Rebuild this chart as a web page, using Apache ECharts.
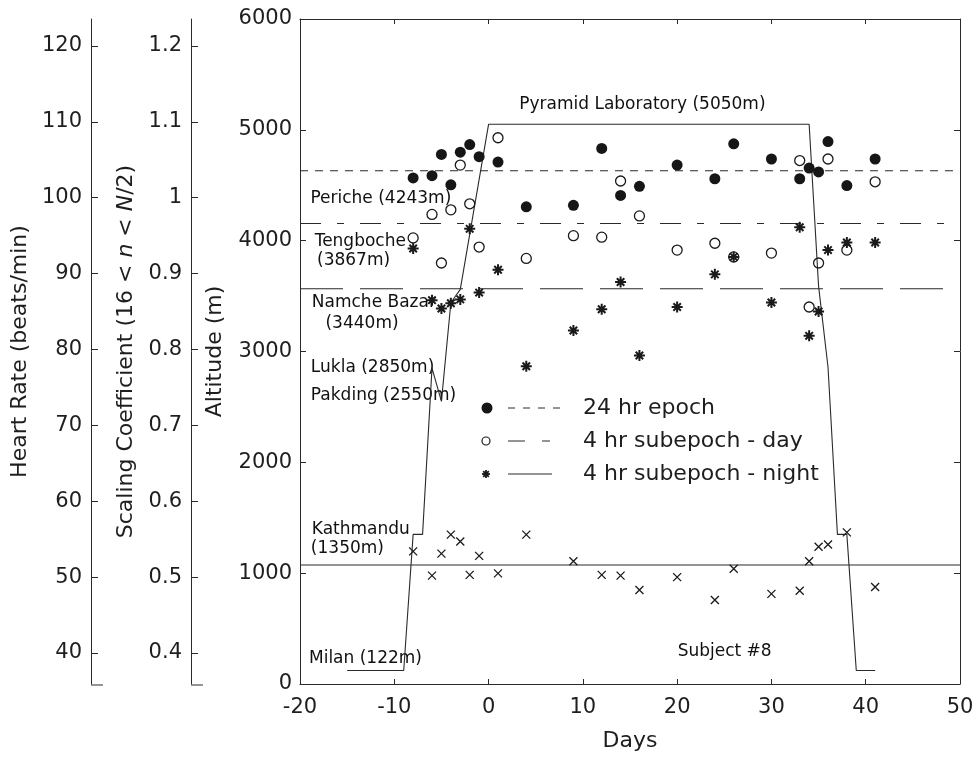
<!DOCTYPE html>
<html><head><meta charset="utf-8">
<script src="https://cdn.jsdelivr.net/npm/echarts@6/dist/echarts.min.js"></script>
<style>html,body{margin:0;padding:0;background:#fff}#c{width:980px;height:757px}</style>
</head><body><div id="c"></div>
<script>
// ---------------- data ----------------
const days = [-8,-6,-5,-4,-3,-2,-1,1,4,9,12,14,16,20,24,26,30,33,34,35,36,38,41];
const coef24hr  = [1.026,1.029,1.057,1.017,1.060,1.070,1.054,1.047,0.988,0.990,1.065,1.003,1.015,1.043,1.025,1.071,1.051,1.025,1.039,1.034,1.074,1.016,1.051];
const coefDay   = [0.947,0.978,0.914,0.984,1.043,0.992,0.935,1.079,0.920,0.950,0.948,1.022,0.976,0.931,0.940,0.922,0.927,1.049,0.856,0.914,1.051,0.931,1.021];
const coefNight = [0.933,0.865,0.854,0.861,0.866,0.959,0.875,0.905,0.778,0.825,0.853,0.889,0.792,0.856,0.899,0.922,0.862,0.961,0.818,0.850,0.931,0.941,0.941];
const heartRate = [53.4,50.2,53.1,55.6,54.7,50.3,52.8,50.5,55.6,52.1,50.3,50.2,48.3,50.0,47.0,51.1,47.8,48.2,52.1,54.0,54.3,55.9,48.7];
const mean24hr = 1.0355, meanDay = 0.966, meanNight = 0.880, meanHeartRate = 51.6;
const routeDays     = [-15,-9,-8,-7,-6,-5,-4,-3,0,34,35,36,36.2,37,38,39,41];
const routeAltitude = [122,122,1350,1350,2850,2550,3440,3560,5050,5050,3590,2860,2560,1350,1350,122,122];
const dayRange = [-20, 50];
const altitudeRange = [0, 6000];
const hrRange = [35.92, 123.55];
const coefRange = [0.3592, 1.2355];
const hrTicks = [40,50,60,70,80,90,100,110,120];
const coefTicks = [0.4,0.5,0.6,0.7,0.8,0.9,1.0,1.1,1.2];
const placeLabels = ['Pyramid Laboratory (5050m)','Periche (4243m)','Tengboche','(3867m)','Namche Bazar','(3440m)','Lukla (2850m)','Pakding (2550m)','Kathmandu','(1350m)','Milan (122m)','Subject #8'];
const placeLabelDays = [3.2,-18.95,-18.5,-18.25,-18.8,-17.35,-18.9,-18.9,-18.8,-18.9,-19.1,20];
const placeLabelAlt  = [5230,4376,3994,3823,3439,3252,2853,2606,1390,1222,225,291];
const legendNames = ['24 hr epoch','4 hr subepoch - day','4 hr subepoch - night'];

// ---------------- chart ----------------
const FONT = 'DejaVu Sans';
const INK = '#1e1e1e';
const LINE = '#2a2a2a';
const STAR = 'path://M5,0L5,10M0,5L10,5M1.6,1.6L8.4,8.4M1.6,8.4L8.4,1.6';
const CROSS = 'path://M0,0L10,10M0,10L10,0';
const zip = (a, b) => a.map((v, i) => [v, b[i]]);
const fmt1 = v => String(Math.round(v * 10) / 10);
const fmtInt = v => String(Math.round(v));

const axisText = {fontFamily: FONT, fontSize: 21, color: INK};
const nameText = {fontFamily: FONT, fontSize: 22, color: INK};

const chart = echarts.init(document.getElementById('c'), null, {renderer: 'canvas'});

function meanLine(y, yIdx, type) {
  return {type: 'line', xAxisIndex: 0, yAxisIndex: yIdx, data: [[dayRange[0], y], [dayRange[1], y]],
    symbol: 'none', silent: true, lineStyle: {color: LINE, width: 1.1, type: type, opacity: 1}, z: 2};
}
function legendStar(cx, cy, r) {
  const d = r * 0.7;
  const seg = (x1, y1, x2, y2) => ({type: 'line', shape: {x1: cx + x1, y1: cy + y1, x2: cx + x2, y2: cy + y2},
    style: {stroke: '#1a1a1a', lineWidth: 1.8}, z: 10});
  return [seg(-r, 0, r, 0), seg(0, -r, 0, r), seg(-d, -d, d, d), seg(-d, d, d, -d)];
}

const option = {
  animation: false,
  backgroundColor: '#fff',
  grid: {left: 300, right: 20, top: 19, bottom: 72},
  xAxis: [
    {type: 'value', min: dayRange[0], max: dayRange[1], interval: 10, position: 'bottom',
     name: 'Days', nameLocation: 'middle', nameGap: 46, nameTextStyle: nameText,
     axisLine: {show: true, onZero: false, lineStyle: {color: LINE, width: 1}},
     axisTick: {inside: true, length: 5, lineStyle: {color: LINE}},
     axisLabel: Object.assign({margin: 13, formatter: fmtInt}, axisText), splitLine: {show: false}},
    {type: 'value', min: dayRange[0], max: dayRange[1], interval: 10, position: 'top',
     axisLine: {show: true, onZero: false, lineStyle: {color: LINE, width: 1}},
     axisTick: {inside: true, length: 5, lineStyle: {color: LINE}},
     axisLabel: {show: false}, splitLine: {show: false}}
  ],
  yAxis: [
    {type: 'value', min: altitudeRange[0], max: altitudeRange[1], interval: 1000, position: 'left', offset: 0,
     name: 'Altitude (m)', nameLocation: 'middle', nameGap: 74, nameTextStyle: nameText,
     axisLine: {show: true, onZero: false, lineStyle: {color: LINE, width: 1}},
     axisTick: {inside: true, length: 6, lineStyle: {color: LINE}},
     axisLabel: Object.assign({margin: 8, formatter: fmtInt}, axisText), splitLine: {show: false}},
    {type: 'value', min: coefRange[0], max: coefRange[1], position: 'left', offset: 109,
     name: 'Scaling Coefficient (16 < {i|n} < {i|N}/2)', nameLocation: 'middle', nameGap: 54,
     nameTextStyle: Object.assign({rich: {i: {fontFamily: FONT, fontSize: 22, fontStyle: 'italic', color: INK}}}, nameText),
     axisLine: {show: true, onZero: false, lineStyle: {color: LINE, width: 1}},
     axisTick: {inside: true, length: 7, customValues: coefTicks, lineStyle: {color: LINE}},
     axisLabel: Object.assign({margin: 9, customValues: coefTicks, formatter: fmt1}, axisText), splitLine: {show: false}},
    {type: 'value', min: hrRange[0], max: hrRange[1], position: 'left', offset: 209,
     name: 'Heart Rate (beats/min)', nameLocation: 'middle', nameGap: 60, nameTextStyle: nameText,
     axisLine: {show: true, onZero: false, lineStyle: {color: LINE, width: 1}},
     axisTick: {inside: true, length: 7, customValues: hrTicks, lineStyle: {color: LINE}},
     axisLabel: Object.assign({margin: 9, customValues: hrTicks, formatter: fmtInt}, axisText), splitLine: {show: false}},
    {type: 'value', min: altitudeRange[0], max: altitudeRange[1], interval: 1000, position: 'right',
     axisLine: {show: true, onZero: false, lineStyle: {color: LINE, width: 1}},
     axisTick: {inside: true, length: 6, lineStyle: {color: LINE}},
     axisLabel: {show: false}, splitLine: {show: false}}
  ],
  series: [
    {name: 'route', type: 'line', xAxisIndex: 0, yAxisIndex: 0, data: zip(routeDays, routeAltitude),
     symbol: 'none', lineStyle: {color: LINE, width: 1.1}, silent: true, z: 2},
    {name: 'places', type: 'scatter', xAxisIndex: 0, yAxisIndex: 0, silent: true, z: 1,
     data: placeLabels.map((t, i) => ({name: t, value: [placeLabelDays[i], placeLabelAlt[i]]})),
     symbolSize: 1, itemStyle: {color: 'rgba(0,0,0,0)', opacity: 1},
     label: {show: true, position: 'right', distance: 0, formatter: p => p.name,
             fontFamily: FONT, fontSize: 17, color: '#111', opacity: 1}},
    meanLine(mean24hr, 1, [8, 7]),
    meanLine(meanDay, 1, [21, 16, 7, 16]),
    meanLine(meanNight, 1, [43, 17]),
    meanLine(meanHeartRate, 2, 'solid'),
    {name: legendNames[0], type: 'scatter', xAxisIndex: 0, yAxisIndex: 1, data: zip(days, coef24hr),
     symbol: 'circle', symbolSize: 11, itemStyle: {color: '#161616', opacity: 1}, z: 5},
    {name: legendNames[1], type: 'scatter', xAxisIndex: 0, yAxisIndex: 1, data: zip(days, coefDay),
     symbol: 'circle', symbolSize: 10, itemStyle: {color: 'rgba(0,0,0,0)', borderColor: '#1a1a1a', borderWidth: 1.3, opacity: 1}, z: 5},
    {name: legendNames[2], type: 'scatter', xAxisIndex: 0, yAxisIndex: 1, data: zip(days, coefNight),
     symbol: STAR, symbolSize: 11, itemStyle: {color: '#1a1a1a', borderColor: '#1a1a1a', borderWidth: 2, opacity: 1}, z: 6},
    {name: 'heart rate', type: 'scatter', xAxisIndex: 0, yAxisIndex: 2, data: zip(days, heartRate),
     symbol: CROSS, symbolSize: 8, itemStyle: {color: '#1a1a1a', borderColor: '#1a1a1a', borderWidth: 1.3, opacity: 1}, z: 5}
  ],
  graphic: [
    {type: 'line', shape: {x1: 91, y1: 685, x2: 103, y2: 685}, style: {stroke: LINE, lineWidth: 1}},
    {type: 'line', shape: {x1: 191, y1: 685, x2: 203, y2: 685}, style: {stroke: LINE, lineWidth: 1}},
    {type: 'circle', shape: {cx: 487, cy: 408, r: 5.5}, style: {fill: '#161616'}, z: 10},
    {type: 'line', shape: {x1: 508, y1: 408, x2: 562, y2: 408}, style: {stroke: LINE, lineWidth: 1, lineDash: [7, 8]}, z: 10},
    {type: 'text', x: 583, y: 408, style: {text: legendNames[0], font: '22px "DejaVu Sans"', fill: INK, verticalAlign: 'middle'}, z: 10},
    {type: 'circle', shape: {cx: 486, cy: 441, r: 4}, style: {fill: 'none', stroke: '#1a1a1a', lineWidth: 1.2}, z: 10},
    {type: 'line', shape: {x1: 508, y1: 441, x2: 551, y2: 441}, style: {stroke: LINE, lineWidth: 1, lineDash: [17, 17, 8, 17]}, z: 10},
    {type: 'text', x: 583, y: 441, style: {text: legendNames[1], font: '22px "DejaVu Sans"', fill: INK, verticalAlign: 'middle'}, z: 10},
    ...legendStar(486, 474, 4),
    {type: 'line', shape: {x1: 508, y1: 474, x2: 552, y2: 474}, style: {stroke: LINE, lineWidth: 1}, z: 10},
    {type: 'text', x: 583, y: 474, style: {text: legendNames[2], font: '22px "DejaVu Sans"', fill: INK, verticalAlign: 'middle'}, z: 10}
  ]
};
chart.setOption(option);
</script></body></html>
